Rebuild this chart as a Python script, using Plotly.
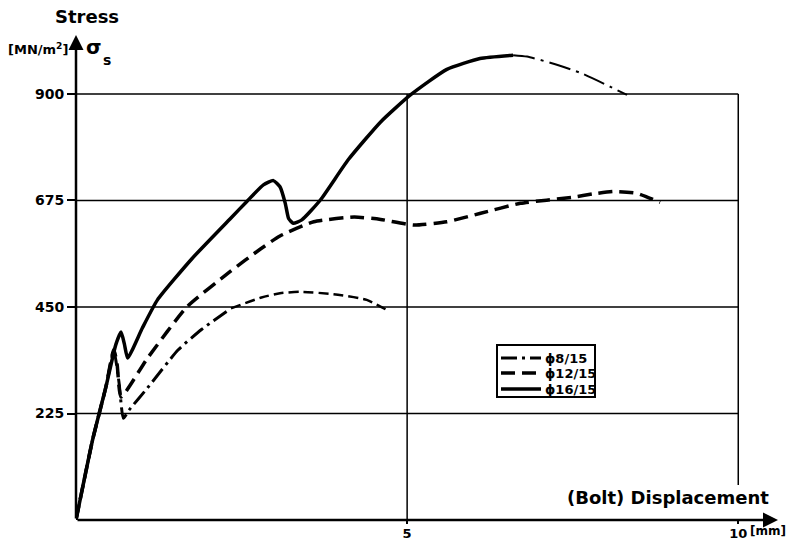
import plotly.graph_objects as go

# ---- data ----
x8 = [0, 0.25, 0.45, 0.57, 0.65, 0.715, 0.80, 1.08, 1.54, 1.90, 2.34]
y8 = [0, 169, 280, 359, 290, 215, 232, 279, 359, 403, 447]
x8_ext = [2.34, 2.80, 3.08, 3.38, 3.89, 4.39, 4.74]
y8_ext = [447, 470, 479, 482, 477, 465, 440]

x12 = [0, 0.25, 0.45, 0.57, 0.62, 0.68, 1.08, 1.68, 2.33, 2.78, 3.08, 3.59,
       4.20, 4.60, 5.10, 5.60, 6.11, 6.71, 7.51, 7.81, 8.12, 8.47, 8.82]
y12 = [0, 169, 280, 360, 330, 260, 342, 451, 525, 572, 600, 630,
       640, 635, 623, 630, 648, 669, 682, 689, 694, 690, 671]

x16 = [0, 0.25, 0.45, 0.60, 0.68, 0.73, 0.78, 1.00, 1.23, 1.75, 2.34, 2.58, 2.83,
       2.98, 3.08, 3.16, 3.21, 3.28, 3.41, 3.69, 4.11, 4.60, 5.05, 5.60, 6.10, 6.60]
y16 = [0, 169, 280, 370, 397, 372, 342, 405, 465, 552, 638, 673, 708,
       717, 704, 669, 637, 627, 634, 676, 761, 841, 898, 952, 975, 982]
x16_ext = [6.60, 6.81, 7.16, 7.61, 8.07, 8.32]
y16_ext = [982, 979, 966, 945, 915, 898]

y_ticks = [225, 450, 675, 900]
x_ticks = [5, 10]
x_ticklabels = ["5", "10"]
names = ["\u03d58/15", "\u03d512/15", "\u03d516/15"]
dashes = ["16px,5px,3px,5px", "14px,7px", "solid"]
widths = [3, 3.5, 3.5]

FONT = "DejaVu Sans"
X_MAX = 10.6
Y_MAX = 1024.6
L, R, T, B = 76, 9, 35, 23
W, H = 787, 543
PW, PH = W - L - R, H - T - B


def px(x):
    return (x - L) / PW


def py(y):
    return (H - B - y) / PH


def bold(size):
    return dict(family=FONT, size=size, color="black", weight="bold")


fig = go.Figure()

series = [(x8, y8), (x12, y12), (x16, y16)]
for (xs, ys), nm, d, w in zip(series, names, dashes, widths):
    fig.add_trace(go.Scatter(x=xs, y=ys, mode="lines", name=nm, showlegend=False,
                             line=dict(color="black", width=w, dash=d,
                                       shape="spline", smoothing=0.5)))
fig.add_trace(go.Scatter(x=x8_ext, y=y8_ext, mode="lines", showlegend=False,
                         line=dict(color="black", width=2.5, dash="10px,5px",
                                   shape="spline", smoothing=0.6)))
fig.add_trace(go.Scatter(x=x16_ext, y=y16_ext, mode="lines", showlegend=False,
                         line=dict(color="black", width=2, dash="22px,6px,3px,6px",
                                   shape="spline", smoothing=0.6)))

# grid lines
shapes = []
for yv in y_ticks:
    shapes.append(dict(type="line", xref="x", yref="y", x0=0, x1=x_ticks[-1],
                       y0=yv, y1=yv, line=dict(color="black", width=1.5), layer="below"))
shapes.append(dict(type="line", xref="x", yref="y", x0=x_ticks[0], x1=x_ticks[0],
                   y0=0, y1=y_ticks[-1], line=dict(color="black", width=1.5), layer="below"))
shapes.append(dict(type="line", xref="x", yref="y", x0=x_ticks[1], x1=x_ticks[1],
                   y0=74, y1=y_ticks[-1], line=dict(color="black", width=1.5), layer="below"))

# legend box (drawn by hand to match the compact original)
shapes.append(dict(type="rect", xref="paper", yref="paper", x0=px(497), x1=px(595),
                   y0=py(345), y1=py(397), line=dict(color="black", width=2),
                   fillcolor="white", layer="above"))
legend_rows = [358, 373, 389]
for ry, d, w in zip(legend_rows, dashes, widths):
    shapes.append(dict(type="line", xref="paper", yref="paper", x0=px(501), x1=px(541),
                       y0=py(ry), y1=py(ry),
                       line=dict(color="black", width=w, dash=d), layer="above"))
fig.update_layout(shapes=shapes)


def label(x, y, text, font, xanchor="center"):
    return dict(x=px(x), y=py(y), xref="paper", yref="paper", text=text,
                showarrow=False, xanchor=xanchor, yanchor="middle", font=font)


annotations = [
    # axes with arrows
    dict(x=X_MAX, y=0, ax=0, ay=0, xref="x", yref="y", axref="x", ayref="y",
         showarrow=True, arrowhead=2, arrowsize=1.2, arrowwidth=2.5, arrowcolor="black", text=""),
    dict(x=0, y=Y_MAX, ax=0, ay=0, xref="x", yref="y", axref="x", ayref="y",
         showarrow=True, arrowhead=2, arrowsize=1.2, arrowwidth=2.5, arrowcolor="black", text=""),
    label(87, 17, "Stress", bold(18)),
    label(38, 49, "[MN/m<sup>2</sup>]", bold(13)),
    label(94, 47, "\u03c3", bold(20)),
    label(107, 60, "s", bold(14)),
    label(771, 497, "(Bolt) Displacement", bold(18), xanchor="right"),
    label(748, 531, "[mm]", bold(12), xanchor="left"),
]
for ry, nm in zip(legend_rows, names):
    annotations.append(label(543, ry, nm, bold(13), xanchor="left"))
fig.update_layout(annotations=annotations)

fig.update_xaxes(range=[0, X_MAX], showgrid=False, zeroline=False, showline=False,
                 automargin=False,
                 tickvals=x_ticks, ticktext=x_ticklabels, ticks="outside", ticklen=3,
                 tickwidth=1.5, tickcolor="black", ticklabelstandoff=-2,
                 tickfont=bold(13))
fig.update_yaxes(range=[0, Y_MAX], showgrid=False, zeroline=False, showline=False,
                 automargin=False,
                 tickvals=y_ticks, ticks="outside", ticklen=8, tickwidth=1.5,
                 tickcolor="black", tickfont=bold(14))

fig.update_layout(
    width=W, height=H,
    margin=dict(l=L, r=R, t=T, b=B),
    plot_bgcolor="white", paper_bgcolor="white",
    showlegend=False,
)

fig.write_html("out.html", config={"displayModeBar": False},
               post_script="document.body.style.margin='0px';")
